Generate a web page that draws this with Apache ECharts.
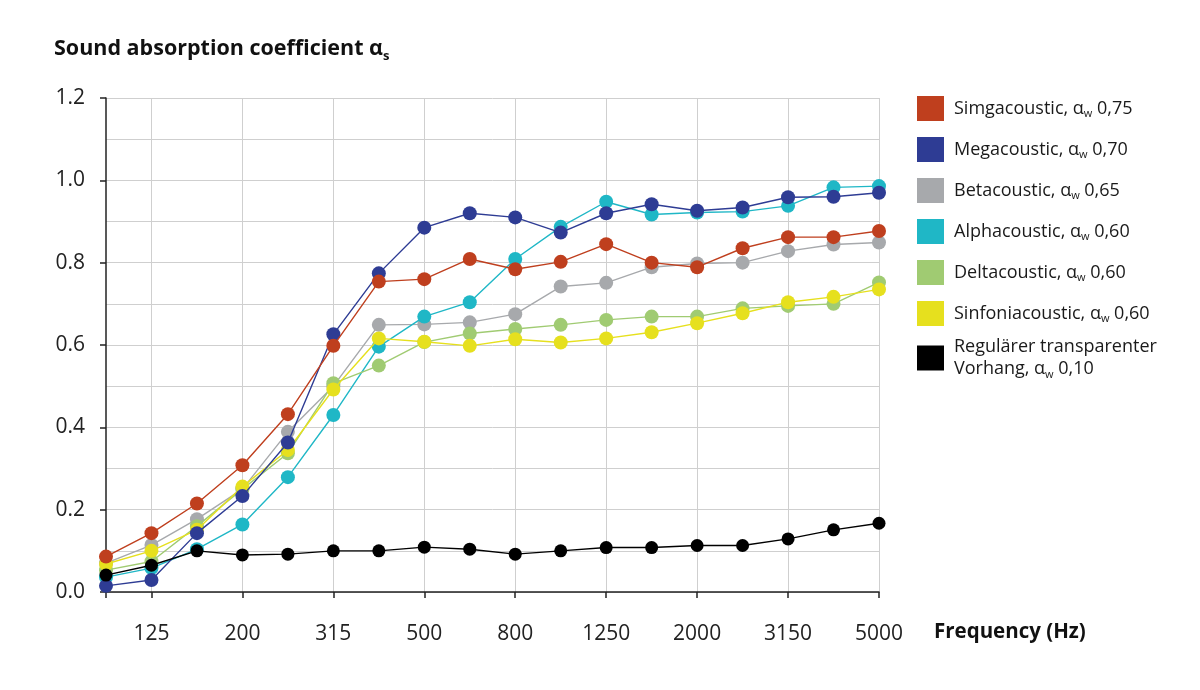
<!DOCTYPE html>
<html><head><meta charset="utf-8">
<script src="https://cdn.jsdelivr.net/npm/echarts@6/dist/echarts.min.js"></script>
<style>html,body{margin:0;padding:0;background:#fff}#c{width:1200px;height:690px}</style>
</head><body><div id="c"></div>
<script>
const frequencies = ['100','125','160','200','250','315','400','500','630','800','1000','1250','1600','2000','2500','3150','4000','5000'];
const seriesNames = ['Simgacoustic, αw 0,75','Megacoustic, αw 0,70','Betacoustic, αw 0,65','Alphacoustic, αw 0,60','Deltacoustic, αw 0,60','Sinfoniacoustic, αw 0,60','Regulärer transparenter\nVorhang, αw 0,10'];
const simgacoustic   = [0.086,0.143,0.215,0.308,0.432,0.598,0.754,0.760,0.809,0.784,0.802,0.845,0.800,0.789,0.835,0.862,0.862,0.877];
const megacoustic    = [0.015,0.029,0.143,0.233,0.363,0.626,0.774,0.885,0.920,0.910,0.873,0.920,0.942,0.926,0.934,0.959,0.960,0.970];
const betacoustic    = [0.070,0.114,0.177,0.250,0.389,0.500,0.649,0.650,0.655,0.675,0.742,0.751,0.789,0.798,0.800,0.828,0.844,0.849];
const alphacoustic   = [0.036,0.058,0.104,0.164,0.279,0.430,0.596,0.669,0.704,0.809,0.887,0.948,0.917,0.922,0.924,0.938,0.983,0.986];
const deltacoustic   = [0.053,0.074,0.160,0.250,0.337,0.507,0.550,0.607,0.628,0.639,0.649,0.661,0.669,0.669,0.689,0.695,0.700,0.752];
const sinfoniacoustic= [0.068,0.100,0.151,0.256,0.345,0.492,0.616,0.608,0.598,0.614,0.606,0.616,0.631,0.653,0.677,0.704,0.717,0.735];
const vorhang        = [0.041,0.065,0.100,0.090,0.092,0.100,0.100,0.109,0.104,0.092,0.100,0.108,0.108,0.113,0.113,0.129,0.151,0.167];

const allData = [simgacoustic, megacoustic, betacoustic, alphacoustic, deltacoustic, sinfoniacoustic, vorhang];
const colors = ['#bf3f1e','#2e3c94','#a7a9ac','#1fb7c6','#a0cb72','#e6e01e','#000000'];
const zOrder = [7,6,2,3,4,5,8];
const FONT = 'Open Sans';

const chart = echarts.init(document.getElementById('c'));
const series = allData.map((d,i)=>({
  name: seriesNames[i], type:'line', data:d, z:zOrder[i],
  symbol:'circle', symbolSize: i===6?13:14, showSymbol:true,
  lineStyle:{color:colors[i], width:1.4},
  itemStyle:{color:colors[i]},
  animation:false
}));

const legendBase = {
  orient:'vertical', left:912,
  itemWidth:27, itemHeight:25, itemGap:16,
  icon:'rect',
  formatter: n => n.split('\n').map(l=>l.replace('αw ','α{w|w} ')).join('\n'),
  textStyle:{fontFamily:FONT, fontSize:18, color:'#1a1a1a', lineHeight:22, padding:[0,0,0,5],
    rich:{w:{fontFamily:FONT, fontSize:11, color:'#1a1a1a', lineHeight:11, verticalAlign:'bottom'}}},
  selectedMode:false
};

chart.setOption({
  animation:false,
  backgroundColor:'#fff',
  title:{
    text:'{t|Sound absorption coefficient α}{s|s}',
    left:49, top:30,
    textStyle:{rich:{
      t:{fontFamily:FONT, fontWeight:'bold', fontSize:21.5, color:'#111', lineHeight:28},
      s:{fontFamily:FONT, fontWeight:'bold', fontSize:13, color:'#111', lineHeight:12, verticalAlign:'bottom'}
    }}
  },
  legend:[
    Object.assign({}, legendBase, {top:91, data: seriesNames.slice(0,6).map((n,i)=>({name:n, itemStyle:{color:colors[i]}}))}),
    Object.assign({}, legendBase, {top:331, data: [{name:seriesNames[6], itemStyle:{color:colors[6]}}]})
  ],
  grid:{left:106, right:321, top:98, bottom:98, containLabel:false},
  xAxis:{
    type:'category', data:frequencies, boundaryGap:false,
    axisLine:{lineStyle:{color:'#222', width:1.5}},
    axisTick:{show:true, length:6, interval:(i)=> i===0 || i%2===1, lineStyle:{color:'#222', width:1.5}},
    axisLabel:{interval:(i)=> i%2===1, fontFamily:FONT, fontSize:21, color:'#222', margin:32},
    splitLine:{show:true, interval:(i)=> i%2===1, lineStyle:{color:'#cfcfcf', width:1}}
  },
  yAxis:{
    type:'value', min:0, max:1.2, interval:0.2,
    axisLine:{show:true, lineStyle:{color:'#222', width:1.5}},
    axisTick:{show:true, length:6, lineStyle:{color:'#222', width:1.5}},
    axisLabel:{fontFamily:FONT, fontSize:21, color:'#222', margin:21, formatter:v=>v.toFixed(1)},
    splitLine:{show:true, lineStyle:{color:'#cfcfcf', width:1}},
    minorTick:{show:false, splitNumber:2},
    minorSplitLine:{show:true, lineStyle:{color:'#cfcfcf', width:1}}
  },
  graphic:[{type:'text', left:934, top:622, style:{text:'Frequency (Hz)', fontFamily:FONT, fontWeight:'bold', fontSize:20.5, fill:'#111'}}],
  series: series
});
</script></body></html>
